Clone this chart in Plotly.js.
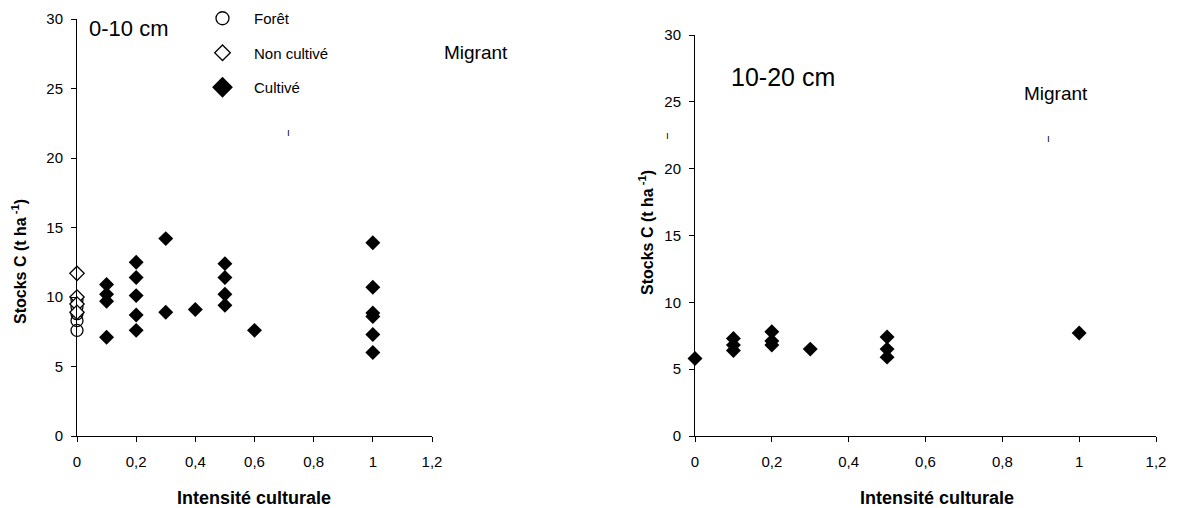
<!DOCTYPE html>
<html>
<head>
<meta charset="utf-8">
<script src="https://cdn.plot.ly/plotly-3.0.1.min.js"></script>
<style>html,body{margin:0;padding:0;background:#fff;}#chart{width:1183px;height:508px;}</style>
</head>
<body>
<div id="chart"></div>
<script>
// ---- Data ----
// Panel 1: 0-10 cm
const foretX = [0, 0, 0, 0, 0];
const foretY = [9.8, 9.3, 8.8, 8.3, 7.6];
const nonCultX = [0, 0, 0, 0];
const nonCultY = [11.7, 10.0, 9.5, 8.9];
const cult1X = [0.1, 0.1, 0.1, 0.1, 0.2, 0.2, 0.2, 0.2, 0.2, 0.3, 0.3, 0.4, 0.5, 0.5, 0.5, 0.5, 0.6, 1, 1, 1, 1, 1, 1];
const cult1Y = [10.9, 10.2, 9.7, 7.1, 12.5, 11.4, 10.1, 8.7, 7.6, 14.2, 8.9, 9.1, 12.4, 11.4, 10.2, 9.4, 7.6, 13.9, 10.7, 8.85, 8.6, 7.3, 6.0];
// Panel 2: 10-20 cm
const cult2X = [0, 0.1, 0.1, 0.1, 0.2, 0.2, 0.2, 0.3, 0.5, 0.5, 0.5, 1];
const cult2Y = [5.8, 7.3, 6.8, 6.4, 7.8, 7.1, 6.8, 6.5, 7.4, 6.5, 5.9, 7.7];
// Labels
const legendNames = ['Forêt', 'Non cultivé', 'Cultivé'];
const yTitle = 'Stocks C (t ha<sup> -1</sup>)';
const xTitle = 'Intensité culturale';
const panelLabels = ['0-10 cm', '10-20 cm'];
const noteLabel = 'Migrant';

const FONT = 'Liberation Sans, Arial, Helvetica, sans-serif';
const W = 1183, H = 508;
const px = v => v / W;
const py = v => (H - v) / H;

const traces = [
  // plot traces (no legend)
  {x: foretX, y: foretY, xaxis: 'x', yaxis: 'y', mode: 'markers', showlegend: false, cliponaxis: false,
   marker: {symbol: 'circle-open', size: 12, color: '#000', line: {width: 1.3, color: '#000'}}},
  {x: nonCultX, y: nonCultY, xaxis: 'x', yaxis: 'y', mode: 'markers', showlegend: false, cliponaxis: false,
   marker: {symbol: 'diamond', size: 11, color: '#fff', line: {width: 1.3, color: '#000'}}},
  {x: cult1X, y: cult1Y, xaxis: 'x', yaxis: 'y', mode: 'markers', showlegend: false, cliponaxis: false,
   marker: {symbol: 'diamond', size: 11.5, color: '#000', line: {width: 0}}},
  {x: cult2X, y: cult2Y, xaxis: 'x2', yaxis: 'y2', mode: 'markers', showlegend: false, cliponaxis: false,
   marker: {symbol: 'diamond', size: 11.5, color: '#000', line: {width: 0}}},
  // legend entries
  {x: [null], y: [null], xaxis: 'x', yaxis: 'y', mode: 'markers', name: legendNames[0], legendgroup: 'a',
   marker: {symbol: 'circle-open', size: 13, color: '#000', line: {width: 1.3, color: '#000'}}},
  {x: [null], y: [null], xaxis: 'x', yaxis: 'y', mode: 'markers', name: legendNames[1], legendgroup: 'b',
   marker: {symbol: 'diamond', size: 12, color: '#fff', line: {width: 1.3, color: '#000'}}},
  {x: [null], y: [null], xaxis: 'x', yaxis: 'y', mode: 'markers', name: legendNames[2], legendgroup: 'c',
   marker: {symbol: 'diamond', size: 16, color: '#000', line: {width: 0}}}
];

const axisX = {
  range: [0, 1.2], dtick: 0.2, tick0: 0, ticks: 'outside', ticklen: 5, tickcolor: '#000', tickwidth: 1,
  showline: true, linecolor: '#000', linewidth: 1, showgrid: false, zeroline: false,
  tickfont: {family: FONT, size: 15, color: '#000'}, ticklabelstandoff: 7, fixedrange: true
};
const axisY = {
  range: [0, 30], dtick: 5, tick0: 0, ticks: 'outside', ticklen: 5, tickcolor: '#000', tickwidth: 1,
  showline: true, linecolor: '#000', linewidth: 1, showgrid: false, zeroline: false,
  tickfont: {family: FONT, size: 15, color: '#000'}, ticklabelstandoff: 5, fixedrange: true
};

const layout = {
  width: W, height: H,
  margin: {l: 0, r: 0, t: 0, b: 0},
  paper_bgcolor: '#fff', plot_bgcolor: 'rgba(0,0,0,0)',
  separators: ', ',
  font: {family: FONT, color: '#000'},
  xaxis: Object.assign({}, axisX, {domain: [px(77), px(432)], anchor: 'y'}),
  yaxis: Object.assign({}, axisY, {domain: [py(436), py(19)], anchor: 'x'}),
  xaxis2: Object.assign({}, axisX, {domain: [px(695), px(1156)], anchor: 'y2'}),
  yaxis2: Object.assign({}, axisY, {domain: [py(436), py(35)], anchor: 'x2'}),
  showlegend: true,
  legend: {
    x: px(191), y: py(2), xanchor: 'left', yanchor: 'top',
    bgcolor: 'rgba(0,0,0,0)', borderwidth: 0,
    font: {family: FONT, size: 15, color: '#000'},
    tracegroupgap: 12, itemsizing: 'trace', traceorder: 'grouped', itemwidth: 53
  },
  annotations: [
    {xref: 'paper', yref: 'paper', x: px(87), y: py(28), xanchor: 'left', yanchor: 'middle', showarrow: false,
     text: panelLabels[0], font: {family: FONT, size: 22, color: '#000'}},
    {xref: 'paper', yref: 'paper', x: px(729), y: py(77), xanchor: 'left', yanchor: 'middle', showarrow: false,
     text: panelLabels[1], font: {family: FONT, size: 25, color: '#000'}},
    {xref: 'paper', yref: 'paper', x: px(442), y: py(52), xanchor: 'left', yanchor: 'middle', showarrow: false,
     text: noteLabel, font: {family: FONT, size: 19, color: '#000'}},
    {xref: 'paper', yref: 'paper', x: px(1022), y: py(93), xanchor: 'left', yanchor: 'middle', showarrow: false,
     text: noteLabel, font: {family: FONT, size: 19, color: '#000'}},
    // y titles
    {xref: 'paper', yref: 'paper', x: px(19), y: py(262), xanchor: 'center', yanchor: 'middle', showarrow: false,
     textangle: -90, text: '<b>' + yTitle + '</b>', font: {family: FONT, size: 16, color: '#000'}},
    {xref: 'paper', yref: 'paper', x: px(646), y: py(233), xanchor: 'center', yanchor: 'middle', showarrow: false,
     textangle: -90, text: '<b>' + yTitle + '</b>', font: {family: FONT, size: 16, color: '#000'}},
    // x titles
    {xref: 'paper', yref: 'paper', x: px(254), y: py(498), xanchor: 'center', yanchor: 'middle', showarrow: false,
     text: '<b>' + xTitle + '</b>', font: {family: FONT, size: 18, color: '#000'}},
    {xref: 'paper', yref: 'paper', x: px(937), y: py(498), xanchor: 'center', yanchor: 'middle', showarrow: false,
     text: '<b>' + xTitle + '</b>', font: {family: FONT, size: 18, color: '#000'}},
    // small scan marks
    {xref: 'paper', yref: 'paper', x: px(288), y: py(132), xanchor: 'center', yanchor: 'middle', showarrow: false,
     text: 'ı', font: {family: FONT, size: 10, color: '#000'}},
    {xref: 'paper', yref: 'paper', x: px(1048), y: py(139), xanchor: 'center', yanchor: 'middle', showarrow: false,
     text: 'ı', font: {family: FONT, size: 10, color: '#000'}},
    {xref: 'paper', yref: 'paper', x: px(667), y: py(136), xanchor: 'center', yanchor: 'middle', showarrow: false,
     text: 'ı', font: {family: FONT, size: 10, color: '#000'}}
  ]
};

Plotly.newPlot('chart', traces, layout, {staticPlot: true, displayModeBar: false});
</script>
</body>
</html>
